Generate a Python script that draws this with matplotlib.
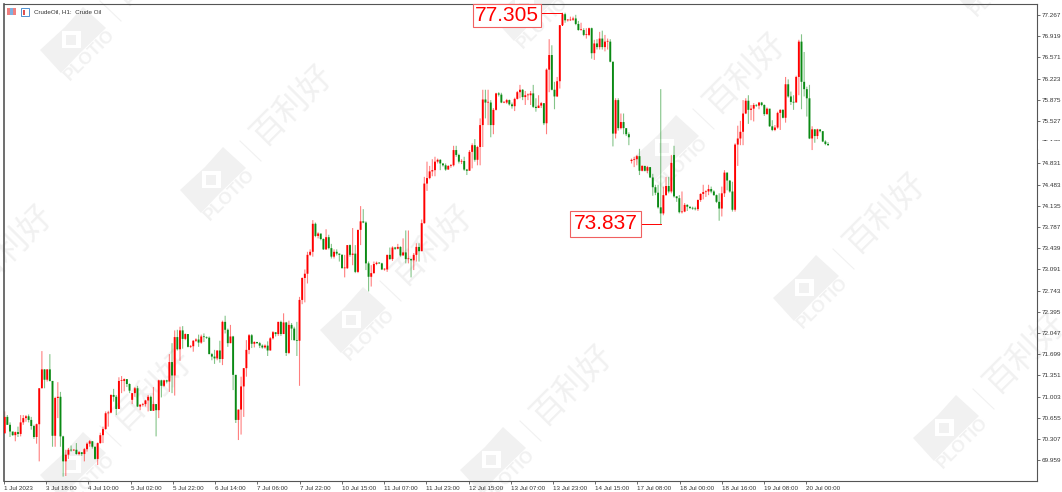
import matplotlib
matplotlib.use("Agg")
import matplotlib.pyplot as plt
from matplotlib.patches import Polygon, Rectangle

RED = "#ff0000"
GREEN = "#0a8a14"
WM = "#f1f1f1"

# hourly candles (open = previous close unless in gap_opens)
closes = [
    70.67, 70.54, 70.43, 70.37, 70.42, 70.39, 70.58, 70.65, 70.68, 70.62,
    70.52, 70.34, 70.55, 71.14, 71.45, 71.28, 71.45, 71.26, 70.36, 70.98,
    71.00, 70.35, 69.94, 70.05, 70.13, 70.12, 70.13, 70.06, 70.09, 70.06,
    70.14, 70.23, 70.27, 70.18, 69.98, 70.24, 70.37, 70.47, 70.73, 70.74,
    71.03, 71.00, 70.80, 71.26, 71.26, 71.29, 71.21, 71.10, 71.06, 71.14,
    70.84, 70.87, 70.88, 70.94, 71.00, 70.77, 70.88, 70.78, 71.27, 71.18,
    71.27, 71.25, 71.57, 71.35, 71.98, 71.78, 72.09, 71.95, 72.03, 71.82,
    71.83, 71.92, 71.94, 71.89, 71.99, 71.98, 71.97, 71.70, 71.66, 71.63,
    71.76, 71.62, 72.23, 72.10, 71.88, 71.99, 71.36, 70.62, 70.79, 71.17,
    71.47, 71.77, 72.01, 71.87, 71.90, 71.88, 71.84, 71.81, 71.84, 71.76,
    71.96, 72.06, 72.03, 72.23, 72.03, 72.22, 71.72, 72.18, 72.12, 71.93,
    71.92, 72.59, 72.95, 73.02, 73.33, 73.38, 73.84, 73.64, 73.68, 73.59,
    73.42, 73.62, 73.44, 73.30, 73.38, 73.35, 73.33, 73.11, 73.11, 73.49,
    73.33, 73.35, 73.05, 73.74, 73.88, 73.86, 73.19, 72.97, 73.03, 73.18,
    73.20, 73.19, 73.09, 73.09, 73.33, 73.26, 73.45, 73.43, 73.46, 73.32,
    73.37, 73.26, 73.26, 73.24, 73.33, 73.46, 73.39, 73.85, 74.50, 74.59,
    74.70, 74.72, 74.86, 74.89, 74.83, 74.80, 74.73, 74.79, 74.80, 75.05,
    74.97, 74.86, 74.87, 74.73, 74.71, 75.02, 75.13, 74.89, 75.10, 75.46,
    75.88, 75.83, 75.83, 75.46, 75.71, 75.98, 75.96, 75.83, 75.83, 75.87,
    75.80, 75.77, 75.89, 76.00, 76.04, 75.92, 75.95, 75.95, 75.98, 75.76,
    75.74, 75.78, 75.82, 75.49, 76.37, 76.61, 76.04, 75.93, 76.18, 77.10,
    77.28, 77.18, 77.18, 77.19, 77.21, 77.12, 77.02, 77.02, 76.94, 76.94,
    77.05, 76.64, 76.80, 76.74, 76.88, 76.74, 76.83, 76.83, 76.50, 75.32,
    75.87, 75.41, 75.51, 75.41, 75.31, 75.26, 74.89, 74.90, 74.95, 74.71,
    74.79, 74.71, 74.77, 74.60, 74.44, 74.35, 74.11, 74.01, 74.31, 74.46,
    74.37, 74.84, 74.29, 74.26, 74.03, 74.04, 74.15, 74.12, 74.10, 74.09, 74.08,
    74.23, 74.33, 74.36, 74.37, 74.41, 74.37, 74.31, 74.20, 74.09, 74.34,
    74.68, 74.55, 74.37, 74.07, 75.14, 75.24, 75.35, 75.65, 75.86, 75.71,
    75.73, 75.79, 75.78, 75.83, 75.79, 75.64, 75.73, 75.44, 75.38, 75.42,
    75.66, 75.71, 75.58, 76.13, 75.93, 75.84, 75.83, 76.25, 76.83, 76.17,
    76.05, 75.90, 75.24, 75.39, 75.28, 75.39, 75.36, 75.19, 75.15, 75.13,
]
highs = [
    70.76, 70.70, 70.58, 70.39, 70.43, 70.51, 70.70, 70.70, 70.70, 70.71,
    70.67, 70.54, 70.56, 71.14, 71.75, 71.45, 71.45, 71.70, 71.26, 71.00,
    71.24, 71.08, 70.36, 70.13, 70.16, 70.20, 70.14, 70.24, 70.11, 70.09,
    70.16, 70.25, 70.29, 70.27, 70.18, 70.25, 70.41, 70.51, 70.76, 70.77,
    71.04, 71.13, 71.03, 71.32, 71.34, 71.30, 71.28, 71.22, 71.06, 71.16,
    71.18, 70.88, 70.90, 70.95, 71.03, 71.02, 71.16, 70.88, 71.28, 71.28,
    71.28, 71.28, 71.70, 71.88, 72.09, 72.10, 72.15, 72.16, 72.04, 71.96,
    71.85, 71.93, 71.96, 72.02, 72.02, 72.04, 71.99, 71.99, 71.72, 71.77,
    71.76, 71.92, 72.25, 72.33, 72.12, 72.18, 72.00, 71.36, 70.79, 71.33,
    71.47, 71.93, 72.03, 72.03, 71.91, 71.90, 71.90, 71.86, 71.86, 71.91,
    71.98, 72.08, 72.05, 72.23, 72.25, 72.37, 72.23, 72.25, 72.21, 72.15,
    72.23, 72.64, 72.96, 73.09, 73.38, 73.42, 73.90, 73.86, 73.70, 73.62,
    73.60, 73.75, 73.66, 73.51, 73.42, 73.42, 73.35, 73.34, 73.33, 73.49,
    73.50, 73.77, 73.49, 73.74, 74.13, 74.08, 73.88, 73.22, 73.16, 73.22,
    73.22, 73.21, 73.20, 73.11, 73.33, 73.45, 73.47, 73.46, 73.51, 73.47,
    73.60, 73.73, 73.73, 73.27, 73.36, 73.52, 73.52, 73.91, 74.61, 74.86,
    74.79, 74.90, 74.94, 74.91, 74.90, 74.83, 74.83, 74.80, 74.82, 75.12,
    75.12, 74.99, 74.90, 74.94, 74.74, 75.05, 75.16, 75.23, 75.12, 75.57,
    76.04, 76.04, 76.04, 75.87, 75.74, 75.99, 76.00, 75.99, 75.85, 75.89,
    75.88, 75.83, 75.91, 76.02, 76.12, 76.05, 76.02, 75.98, 76.02, 76.12,
    75.90, 75.95, 75.84, 75.82, 76.39, 76.87, 76.77, 76.17, 76.25, 77.10,
    77.305, 77.305, 77.20, 77.24, 77.24, 77.27, 77.17, 77.14, 77.05, 77.05,
    77.06, 77.06, 76.86, 76.87, 76.99, 77.01, 76.94, 76.88, 76.87, 76.50,
    75.90, 75.90, 75.65, 75.65, 75.39, 75.34, 74.91, 74.94, 74.97, 75.07,
    74.80, 74.79, 74.79, 74.77, 74.66, 74.48, 74.48, 76.05, 74.45, 74.61,
    74.61, 74.97, 75.12, 74.29, 74.31, 74.37, 74.18, 74.16, 74.12, 74.12, 74.12,
    74.24, 74.34, 74.48, 74.39, 74.48, 74.45, 74.39, 74.32, 74.34, 74.45,
    74.72, 74.68, 74.55, 74.53, 75.16, 75.45, 75.53, 75.87, 75.90, 75.95,
    75.79, 75.82, 75.80, 75.84, 75.84, 75.80, 75.75, 75.68, 75.54, 75.46,
    75.68, 75.72, 75.72, 76.25, 76.21, 76.01, 75.95, 76.27, 76.86, 76.95,
    76.66, 76.09, 76.12, 75.44, 75.39, 75.40, 75.38, 75.36, 75.21, 75.18,
]
lows = [
    70.40, 70.54, 70.34, 70.36, 70.27, 70.34, 70.35, 70.54, 70.59, 70.58,
    70.46, 70.31, 70.23, 69.94, 71.14, 71.14, 71.25, 71.25, 70.18, 70.18,
    70.65, 70.18, 69.69, 69.70, 69.98, 70.10, 70.11, 70.05, 70.04, 70.03,
    69.94, 70.10, 70.18, 70.15, 69.97, 69.88, 70.23, 70.24, 70.46, 70.51,
    70.73, 70.92, 70.70, 70.80, 71.06, 71.09, 71.16, 71.06, 70.88, 71.00,
    70.83, 70.78, 70.84, 70.84, 70.76, 70.77, 70.77, 70.35, 70.65, 70.99,
    71.16, 71.22, 71.08, 71.06, 71.02, 71.76, 71.59, 71.79, 71.93, 71.81,
    71.80, 71.74, 71.90, 71.82, 71.87, 71.90, 71.95, 71.70, 71.60, 71.54,
    71.60, 71.56, 71.52, 72.04, 71.82, 71.88, 71.11, 70.57, 70.29, 70.38,
    70.67, 71.33, 71.70, 71.80, 71.81, 71.87, 71.80, 71.79, 71.79, 71.67,
    71.76, 71.94, 71.99, 72.00, 72.00, 72.03, 71.67, 71.70, 71.93, 71.92,
    71.67, 71.18, 72.52, 72.55, 72.86, 73.31, 73.30, 73.62, 73.60, 73.57,
    73.41, 73.41, 73.42, 73.27, 73.27, 73.32, 73.22, 73.11, 72.96, 73.10,
    73.30, 73.16, 73.03, 73.03, 73.49, 73.85, 73.08, 72.73, 72.81, 73.02,
    73.16, 73.18, 73.08, 73.07, 73.05, 73.25, 73.23, 73.41, 73.42, 73.30,
    73.32, 73.19, 73.19, 72.96, 73.08, 73.22, 73.22, 73.39, 73.84, 74.38,
    74.57, 74.62, 74.62, 74.83, 74.72, 74.78, 74.71, 74.73, 74.76, 74.78,
    74.94, 74.83, 74.82, 74.71, 74.64, 74.72, 74.75, 74.86, 74.80, 74.80,
    75.10, 75.57, 75.46, 75.26, 75.31, 75.70, 75.93, 75.82, 75.82, 75.81,
    75.78, 75.73, 75.69, 75.88, 75.90, 75.87, 75.79, 75.87, 75.79, 75.74,
    75.68, 75.75, 75.74, 75.46, 75.31, 76.00, 76.03, 75.72, 75.92, 76.06,
    77.09, 77.14, 77.16, 77.17, 77.17, 77.10, 77.01, 77.01, 76.92, 76.88,
    76.92, 76.55, 76.53, 76.70, 76.70, 76.70, 76.67, 76.70, 76.49, 75.11,
    75.24, 75.37, 75.39, 75.31, 75.28, 75.13, 74.83, 74.77, 74.80, 74.64,
    74.70, 74.70, 74.67, 74.59, 74.30, 74.31, 74.09, 73.837, 73.98, 74.30,
    74.34, 74.34, 74.27, 74.20, 74.01, 74.01, 74.03, 74.05, 74.08, 74.07, 74.06,
    74.05, 74.20, 74.24, 74.28, 74.31, 74.34, 74.30, 74.18, 73.89, 73.96,
    74.28, 74.39, 74.35, 74.04, 74.04, 74.79, 75.13, 75.13, 75.64, 75.48,
    75.54, 75.52, 75.76, 75.72, 75.77, 75.61, 75.63, 75.43, 75.36, 75.36,
    75.40, 75.38, 75.57, 75.50, 75.91, 75.79, 75.71, 75.84, 75.95, 75.72,
    75.93, 75.60, 75.23, 75.05, 75.17, 75.23, 75.34, 75.18, 75.13, 75.12,
]
first_open = 70.40
gap_opens = {48: 70.95, 236: 74.87, 252: 74.97}

y_ticks = [77.267, 76.919, 76.571, 76.223, 75.875, 75.527, 75.179, 74.831,
           74.483, 74.135, 73.787, 73.439, 73.091, 72.743, 72.395, 72.047,
           71.699, 71.351, 71.003, 70.655, 70.307, 69.959]
x_labels = ["1 Jul 2023", "3 Jul 18:00", "4 Jul 10:00", "5 Jul 02:00",
            "5 Jul 22:00", "6 Jul 14:00", "7 Jul 06:00", "7 Jul 22:00",
            "10 Jul 15:00", "11 Jul 07:00", "11 Jul 23:00", "12 Jul 15:00",
            "13 Jul 07:00", "13 Jul 23:00", "14 Jul 15:00", "17 Jul 08:00",
            "18 Jul 00:00", "18 Jul 16:00", "19 Jul 08:00", "20 Jul 00:00"]

# watermark anchors, pixels
wm_anchors = [(63, 40), (203, 180), (343, 320), (483, 460), (-77, 320), (63, 465),
              (516, 8), (656, 148), (796, 288), (936, 428), (970, -24)]

plt.rcParams["font.family"] = ["Liberation Sans", "DejaVu Sans"]
W, H = 1062, 492
fig = plt.figure(figsize=(W / 100, H / 100), dpi=100, facecolor="white")

# full figure layer in pixel coordinates for the watermark and the icons
bg = fig.add_axes([0, 0, 1, 1], zorder=0)
bg.set_xlim(0, W)
bg.set_ylim(H, 0)
bg.axis("off")

for ax0, ay0 in wm_anchors:
    shape = [(-23, 10), (2, -13), (20, -33), (43, -12), (17, 13), (-2, 33)]
    bg.add_patch(Polygon([(ax0 + a, ay0 + b) for a, b in shape], color=WM, lw=0))
    bg.add_patch(Rectangle((ax0 - 1, ay0 - 9), 19, 17, color="white", lw=0))
    bg.add_patch(Rectangle((ax0 + 3, ay0 - 5), 10, 10, color=WM, lw=0))
    bg.plot([ax0 + 37, ax0 + 58], [ay0 - 39, ay0 - 19], color=WM, lw=0.8)
    bg.text(ax0 + 27, ay0 + 15, "PLOTIO", rotation=45, ha="center", va="center",
            fontsize=12.5, fontweight="bold", color=WM, rotation_mode="anchor")
    bg.text(ax0 + 89, ay0 - 75, "百利好", rotation=45, ha="center", va="center",
            fontsize=24, color=WM, family="Noto Sans CJK SC", rotation_mode="anchor")

# price area
left, right, top, bottom = 4, 1037, 4, 481
ax = fig.add_axes([left / W, 1 - bottom / H, (right - left) / W, (bottom - top) / H], zorder=1)
ax.patch.set_alpha(0)
bar_px = 2.656
x0_px = 4.7
ax.set_xlim((left - x0_px) / bar_px, (right - x0_px) / bar_px)
px_price = 0.016415
ax.set_ylim(77.267 - (bottom - 15) * px_price, 77.267 + (15 - top) * px_price)

opens = [first_open] + closes[:-1]
for i, v in gap_opens.items():
    opens[i] = v

for i in range(len(closes)):
    col = RED if closes[i] >= opens[i] else GREEN
    ax.plot([i, i], [lows[i], highs[i]], color=col, lw=0.8, alpha=0.5,
            solid_capstyle="butt", snap=False, zorder=2)
    lo = min(opens[i], closes[i])
    hi = max(opens[i], closes[i])
    ax.add_patch(Rectangle((i - 0.36, lo), 0.72, max(hi - lo, 0.012), color=col, lw=0,
                           snap=False, zorder=3))

# high and low callouts
hi_i = highs.index(max(highs))
lo_i = lows.index(min(lows[200:]), 200)
ax.plot([hi_i - 8.2, hi_i, hi_i], [max(highs), max(highs), closes[hi_i - 1]],
        color=RED, lw=0.7, zorder=4)
ax.plot([lo_i - 8, lo_i], [lows[lo_i], lows[lo_i]], color=RED, lw=0.7, zorder=4)
ax.text(hi_i - 8.7, max(highs) - 0.04, f"{max(highs):.3f}", ha="right", va="center",
        fontsize=15, color=RED, zorder=5,
        bbox=dict(boxstyle="square,pad=0.1", fc="white", ec="#f06060", lw=0.8))
ax.text(lo_i - 8.7, lows[lo_i], f"{lows[lo_i]:.3f}", ha="right", va="center",
        fontsize=15, color=RED, zorder=5,
        bbox=dict(boxstyle="square,pad=0.18", fc="white", ec="#f06060", lw=0.8))

ax.set_yticks(y_ticks)
ax.set_yticklabels([f"{v:.3f}" for v in y_ticks])
ax.yaxis.tick_right()
ax.tick_params(axis="y", length=2.5, width=0.5, pad=1, labelsize=4.6, colors="#333333")
# the source axis steps a little under 16 bar widths
ax.set_xticks([i * 15.9 - 0.26 for i in range(len(x_labels))])
ax.set_xticklabels(x_labels, ha="left")
ax.tick_params(axis="x", length=2.5, width=0.5, pad=1, labelsize=4.5, colors="#333333")
for s in ax.spines.values():
    s.set_color("#555555")
    s.set_linewidth(0.8)
ax.spines["left"].set_linewidth(1.2)

# the 75.179 label is half covered in the source
ax.add_patch(Rectangle((1038, 141), 24, 8, transform=bg.transData, color="white",
                       lw=0, clip_on=False, zorder=10))

# title and the two small icons
bg.add_patch(Rectangle((7, 8), 9, 7, color="#f08080", lw=0))
bg.add_patch(Rectangle((10, 8), 3, 7, color="#7fb0e0", lw=0))
bg.add_patch(Rectangle((21, 8), 8, 8, fc="white", ec="#5090d0", lw=0.7))
bg.add_patch(Rectangle((23, 10), 2, 5, color="#e05050", lw=0))
bg.text(34, 12, "CrudeOil, H1:  Crude Oil", fontsize=4.5, va="center", color="#333333")

fig.savefig("out.png", dpi=100)
